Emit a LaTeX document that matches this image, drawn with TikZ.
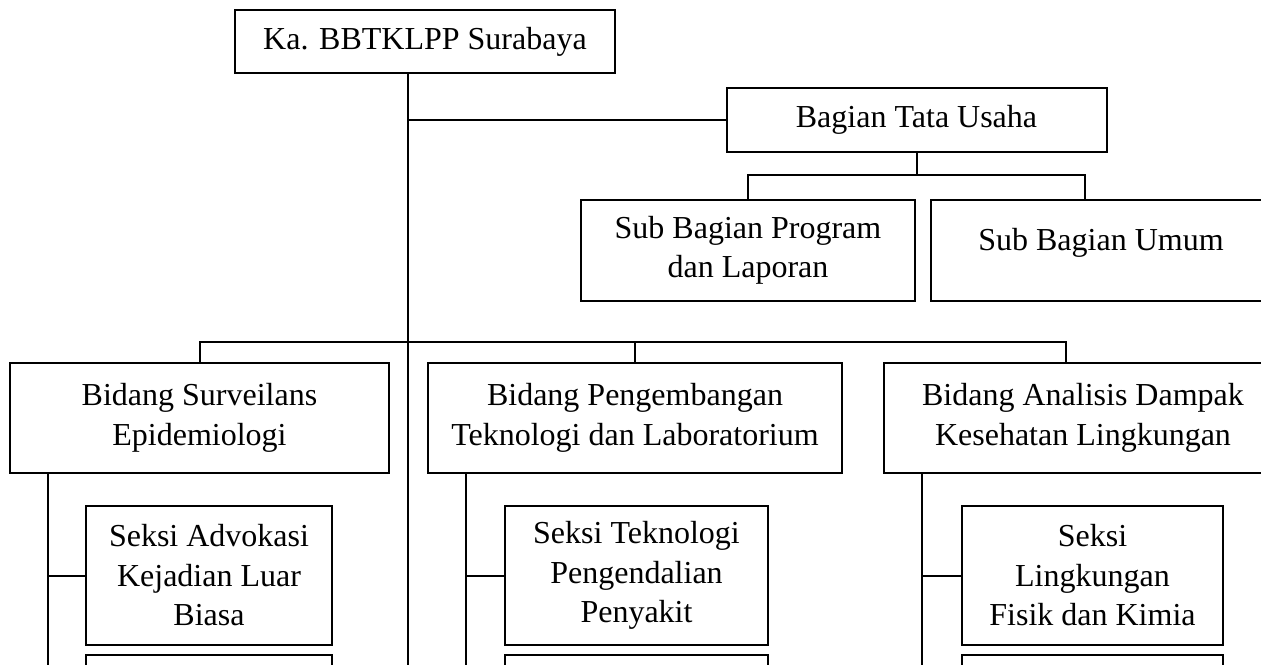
\documentclass[tikz,border=0pt]{standalone}
\usepackage{fontspec}
\setmainfont{Liberation Serif}
\usepackage{tikz}
\usetikzlibrary{positioning}
\tikzset{
    % Base style for all boxes
    org base/.style={
        rectangle,
        draw=black,
        line width=2pt,
        font=\fontsize{32}{39.5}\selectfont,
        align=center,
        text=black,
        inner sep=4pt,
    },
    % Head of the office
    head box/.style={org base, minimum width=380pt, minimum height=63pt},
    % Bagian box
    unit box/.style={org base, minimum width=380pt, minimum height=64pt},
    % Sub bagian boxes
    sub box/.style={org base, minimum height=101pt},
    % Bidang boxes
    bidang box/.style={org base, minimum height=110pt},
    % Seksi boxes
    seksi box/.style={org base, minimum height=139pt},
    % Plain connector lines
    link/.style={line width=2pt, draw=black},
}
\begin{document}
\begin{tikzpicture}[x=1pt, y=-1pt]
    \clip (0,0) rectangle (1261,664);

    \node (ka_bbtklpp) [head box] at (425,41.5) {Ka. BBTKLPP Surabaya};
    \node (tata_usaha) [unit box] at (916.5,120) {Bagian Tata Usaha};
    \node (sub_program) [sub box, minimum width=334pt] at (748,250.5) {Sub Bagian Program\\dan Laporan};
    \node (sub_umum) [sub box, minimum width=340pt, text depth=23pt] at (1101,250.5) {Sub Bagian Umum};

    \node (bid_surveilans) [bidang box, minimum width=379pt] at (199.5,418) {Bidang Surveilans\\Epidemiologi};
    \node (bid_pengembangan) [bidang box, minimum width=414pt] at (635,418) {Bidang Pengembangan\\Teknologi dan Laboratorium};
    \node (bid_analisis) [bidang box, minimum width=398pt] at (1083,418) {Bidang Analisis Dampak\\Kesehatan Lingkungan};

    \node (seksi_advokasi) [seksi box, minimum width=245.5pt] at (209,575.5) {Seksi Advokasi\\Kejadian Luar\\Biasa};
    \node (seksi_teknologi) [seksi box, minimum width=263.5pt] at (636.5,575.5) {Seksi Teknologi\\Pengendalian\\Penyakit};
    \node (seksi_lingkungan) [seksi box, minimum width=261pt] at (1092.5,575.5) {Seksi\\Lingkungan\\Fisik dan Kimia};
    % next seksi boxes, cut off at the bottom
    \node (seksi_advokasi_next) [seksi box, minimum width=245.5pt, below=8pt of seksi_advokasi] {};
    \node (seksi_teknologi_next) [seksi box, minimum width=263.5pt, below=8pt of seksi_teknologi] {};
    \node (seksi_lingkungan_next) [seksi box, minimum width=261pt, below=8pt of seksi_lingkungan] {};

    \coordinate (trunk_end) at (408,670);
    \coordinate (bus) at (408,342);
    \draw [link] (ka_bbtklpp.south -| trunk_end) -- (trunk_end);
    \draw [link] (tata_usaha.west) -- (tata_usaha.west -| trunk_end);
    \draw [link] (tata_usaha.south) -- ++(0,22) coordinate (tu_split);
    \draw [link] (sub_program.north) |- (tu_split) -| ([xshift=-16pt]sub_umum.north);
    \draw [link] (bid_surveilans.north) |- (bus) -| ([xshift=-17pt]bid_analisis.north);
    \draw [link] (bid_pengembangan.north) -- (bid_pengembangan.north |- bus);

    \coordinate (surv_branch) at ([xshift=39pt]bid_surveilans.south west);
    \coordinate (tek_branch) at ([xshift=39pt]bid_pengembangan.south west);
    \coordinate (ana_branch) at ([xshift=39pt]bid_analisis.south west);
    \draw [link] (surv_branch) -- (surv_branch |- trunk_end);
    \draw [link] (tek_branch) -- (tek_branch |- trunk_end);
    \draw [link] (ana_branch) -- (ana_branch |- trunk_end);
    \draw [link] (seksi_advokasi.west) -- (seksi_advokasi.west -| surv_branch);
    \draw [link] (seksi_teknologi.west) -- (seksi_teknologi.west -| tek_branch);
    \draw [link] (seksi_lingkungan.west) -- (seksi_lingkungan.west -| ana_branch);
\end{tikzpicture}
\end{document}
